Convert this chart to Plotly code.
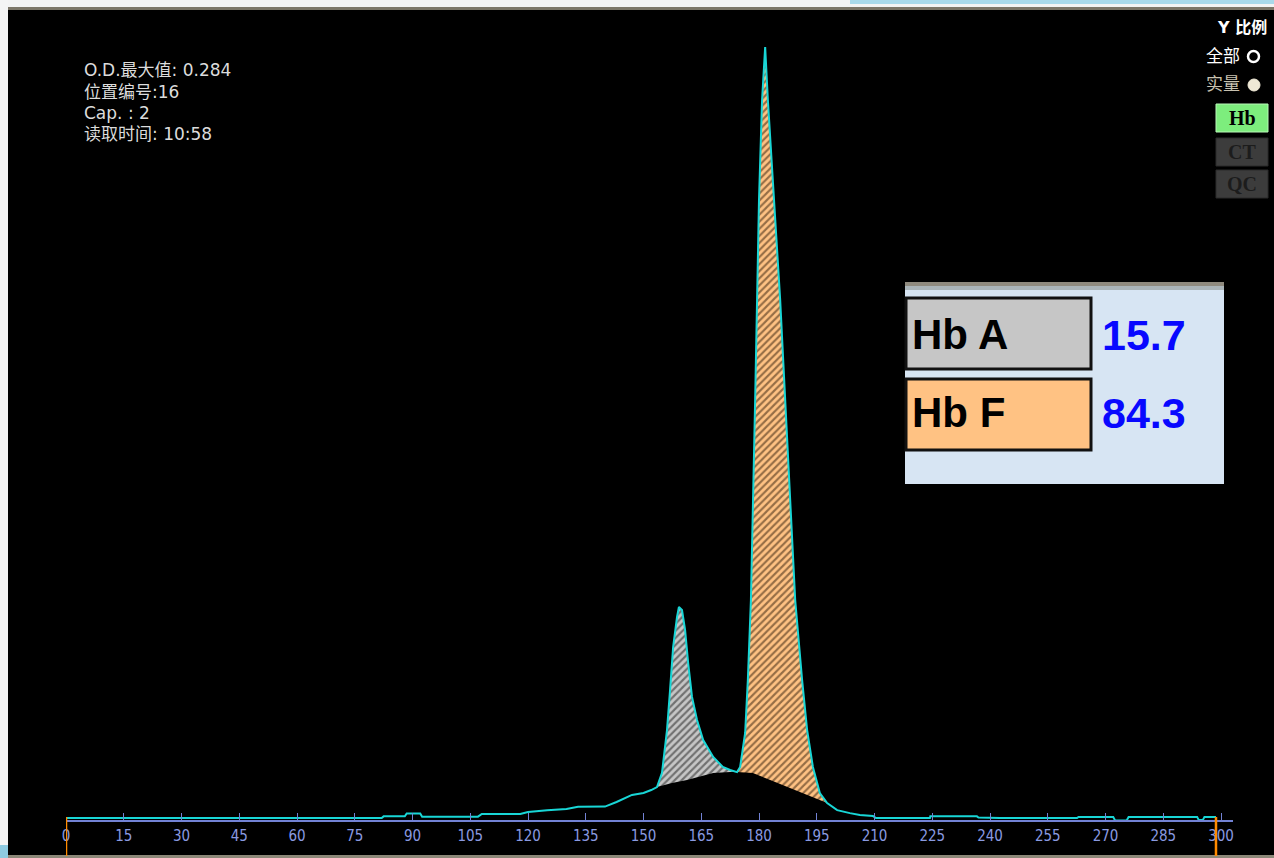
import plotly.graph_objects as go

# electrophoresis scan, x = position, y = optical density
curve_x = [0, 82, 82.5, 88, 88.5, 92, 92.5, 107, 108, 118, 120, 125, 130, 133, 140, 143, 147, 150, 152,
           153.5, 154.8, 156.1, 156.9, 157.7, 158.7, 159.2, 160.0, 160.8, 161.6, 162.6, 163.9, 165.5,
           168.1, 170.6, 172.5, 174.3, 175.1, 176.4, 177.1, 177.9, 179.0, 180.0, 180.8, 181.6, 182.3,
           183.9, 185.5, 186.8, 188.1, 189.4, 191.2, 192.5, 194.0, 195.8, 197.7, 200.3, 203.6, 206.2,
           209.6, 210.4, 224.4, 224.5, 236.6, 237, 242.6, 262.6, 263, 272, 272.5, 275.5, 276, 293.8,
           294.2, 295.3, 295.7, 298.7]
curve_od = [0, 0, 0.0006, 0.0006, 0.0017, 0.0017, 0.0005, 0.0005, 0.0015, 0.0015, 0.0022, 0.0029, 0.0033,
            0.0041, 0.0042, 0.0059, 0.0085, 0.0092, 0.0103,
            0.0114, 0.0166, 0.0324, 0.0472, 0.0630, 0.0740, 0.0777, 0.0766, 0.0693, 0.0571, 0.0446, 0.0361,
            0.0287, 0.0225, 0.0188, 0.0177, 0.0169, 0.0188, 0.0313, 0.0508, 0.0803, 0.154, 0.2277, 0.2645,
            0.284, 0.2645, 0.2277, 0.1908, 0.154, 0.1171, 0.0803, 0.0508, 0.0324, 0.0188, 0.0092, 0.0055,
            0.0029, 0.0018, 0.0011, 0.0007, 0, 0, 0.0006, 0.0006, 0.0002, 0, 0, 0.0004, 0.0004, -0.0009,
            -0.0009, 0.0004, 0.0004, -0.0007, -0.0007, 0.0004, 0.0004]

# integration baselines below the two fractions
hba_base_x = [153.5, 157.4, 161.3, 168.1, 172.5, 174.3]
hba_base_od = [0.0114, 0.0129, 0.0140, 0.0166, 0.0169, 0.0169]
hbf_base_x = [174.3, 178.4, 182.9, 187.3, 191.4, 195.8, 197.7]
hbf_base_od = [0.0169, 0.0166, 0.0140, 0.0114, 0.0092, 0.0066, 0.0055]

range_marks = [0, 298.7]
tick_vals = list(range(0, 301, 15))

info_lines = ["O.D.最大值: 0.284", "位置编号:16", "Cap. : 2", "读取时间: 10:58"]
fractions = ["Hb A", "Hb F"]
percents = ["15.7", "84.3"]
fraction_colors = ["#c6c6c6", "#ffc283"]
buttons = ["Hb", "CT", "QC"]

W, H = 1274, 858
L, R, T, B = 66, 41, 10, 38
PW, PH = W - L - R, H - T - B


def px(x):
    return (x - L) / PW


def py(y):
    return (H - B - y) / PH


def rect(x0, y0, x1, y1, fill, line=None, lw=0, kind="rect"):
    return dict(type=kind, xref="paper", yref="paper", x0=px(x0), x1=px(x1), y0=py(y1), y1=py(y0),
                fillcolor=fill, line=dict(color=line or fill, width=lw), layer="above")


def label(x, y, text, size, color, family="DejaVu Sans, Noto Sans CJK SC", anchor="left"):
    return dict(x=px(x), y=py(y), xref="paper", yref="paper", text=text, showarrow=False,
                xanchor=anchor, yanchor="middle", font=dict(family=family, size=size, color=color))


fig = go.Figure()

# hatched fractions
fig.add_trace(go.Scatter(x=hba_base_x, y=hba_base_od, mode="lines", line=dict(width=0), hoverinfo="skip"))
seg = [(x, y) for x, y in zip(curve_x, curve_od) if hba_base_x[0] <= x <= hba_base_x[-1]]
fig.add_trace(go.Scatter(x=[s[0] for s in seg], y=[s[1] for s in seg], mode="lines", line=dict(width=0),
                         fill="tonexty", fillcolor=fraction_colors[0],
                         fillpattern=dict(shape="/", bgcolor=fraction_colors[0], fgcolor="#1a1a1a",
                                          size=5, solidity=0.42)))
fig.add_trace(go.Scatter(x=hbf_base_x, y=hbf_base_od, mode="lines", line=dict(width=0), hoverinfo="skip"))
seg = [(x, y) for x, y in zip(curve_x, curve_od) if hbf_base_x[0] <= x <= hbf_base_x[-1]]
fig.add_trace(go.Scatter(x=[s[0] for s in seg], y=[s[1] for s in seg], mode="lines", line=dict(width=0),
                         fill="tonexty", fillcolor=fraction_colors[1],
                         fillpattern=dict(shape="/", bgcolor=fraction_colors[1], fgcolor="#2a1808",
                                          size=5, solidity=0.42)))

fig.add_trace(go.Scatter(x=curve_x, y=curve_od, mode="lines", line=dict(color="#18d6d6", width=2)))

shapes = []
# window frame
shapes.append(rect(0, 0, W, 8, "#f3f3f3"))
shapes.append(rect(850, 0, W, 4, "#a9d9ea"))
shapes.append(rect(8, 7, W, 10, "#7c7668"))
shapes.append(rect(0, 0, 8, H, "#f4f4f4"))
shapes.append(rect(0, 845, 8, H, "#8ecae0"))
shapes.append(rect(8, 855, W, H, "#8c8878"))

# integration range markers
for m in range_marks:
    shapes.append(dict(type="line", xref="x", yref="paper", x0=m, x1=m, y0=py(856), y1=py(817),
                       line=dict(color="#ff8a00", width=2.5), layer="above"))

# results panel
shapes.append(rect(905, 282, 1224, 484, "#d7e5f3"))
shapes.append(rect(905, 282, 1224, 286, "#8f8a7e"))
shapes.append(rect(905, 286, 1224, 290, "#aab4b8"))
for i, c in enumerate(fraction_colors):
    y0 = 298 + i * 81
    shapes.append(rect(906, y0, 1091, y0 + 71, c, "#111111", 3))

# side buttons
btn_y = [104, 138, 170]
btn_fill = ["#7ded7d", "#3c3c3c", "#3c3c3c"]
btn_text = ["#000000", "#1c1c1c", "#1c1c1c"]
for i, b in enumerate(buttons):
    shapes.append(rect(1216, btn_y[i], 1268, btn_y[i] + 28, btn_fill[i], "#2a2a2a" if i else "#b8f8b8", 1))

shapes.append(rect(1248, 51, 1259, 62, "rgba(0,0,0,0)", "#ffffff", 2.5, kind="circle"))
shapes.append(rect(1248, 79, 1260, 91, "#efe9d6", "#efe9d6", 1, kind="circle"))

ann = []
for i, t in enumerate(info_lines):
    ann.append(label(82, 70 + i * 21.5, t, 17, "#dcdcdc"))
ann.append(label(1269, 27, "<b>Y 比例</b>", 16, "#ffffff", anchor="right"))
ann.append(label(1242, 56, "全部", 17, "#ffffff", anchor="right"))
ann.append(label(1242, 84, "实量", 17, "#c8c2b0", anchor="right"))
for i, b in enumerate(buttons):
    ann.append(label(1242, btn_y[i] + 14, "<b>%s</b>" % b, 20, btn_text[i], "Liberation Serif", "center"))
for i, (f, p) in enumerate(zip(fractions, percents)):
    yc = 334 + i * 78
    ann.append(label(910, yc, "<b>%s</b>" % f, 42, "#000000", "Liberation Sans"))
    ann.append(label(1100, yc + 1, "<b>%s</b>" % p, 43, "#0808ff", "Liberation Sans"))

fig.update_layout(
    width=W, height=H,
    margin=dict(l=L, r=R, t=T, b=B),
    paper_bgcolor="#000000", plot_bgcolor="#000000",
    showlegend=False,
    shapes=shapes, annotations=ann,
    xaxis=dict(range=[0, PW / 3.85], showgrid=False, zeroline=False, showline=True, linecolor="#7282d4",
               linewidth=2, ticks="inside", ticklen=7, tickwidth=1, tickcolor="#7282d4",
               ticklabelstandoff=1, tickvals=tick_vals,
               tickfont=dict(family="DejaVu Sans Condensed", size=15, color="#8a9ae0")),
    yaxis=dict(range=[-2 / 2715, 808 / 2715], visible=False),
)

fig.write_html("out.html", config={"displayModeBar": False},
               post_script="document.body.style.margin='0';document.body.style.overflow='hidden';")
